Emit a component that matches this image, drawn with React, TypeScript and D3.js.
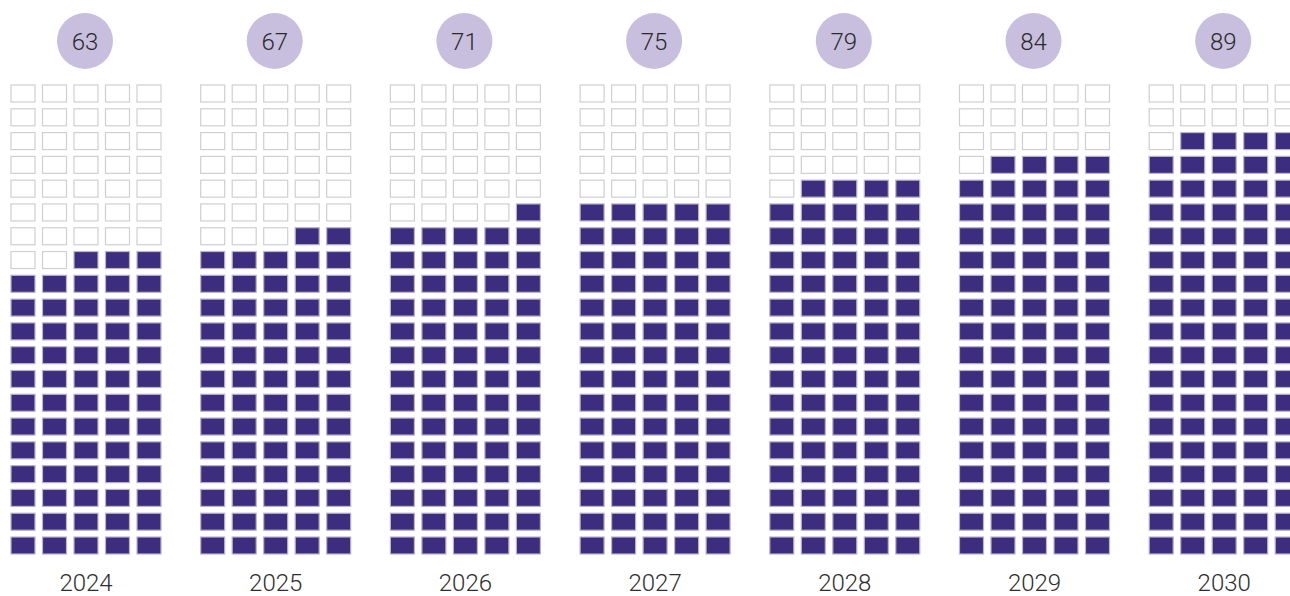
import React from "react";
import * as d3 from "d3";

const years = ["2024", "2025", "2026", "2027", "2028", "2029", "2030"];
const values = [63, 67, 71, 75, 79, 84, 89];
const COLS = 5;
const ROWS = 20;

const W = 1290;
const H = 596;

export default function App() {
  const groupX = d3.scaleLinear().domain([0, 1]).range([11, 200.7]);
  const colX = d3.scaleLinear().domain([0, 1]).range([0, 31.5]);
  const rowY = d3.scaleLinear().domain([0, ROWS - 1]).range([85, 537]);
  const cellW = 24;
  const cellH = 17;
  const groupW = colX(COLS - 1) + cellW;

  return (
    <svg
      width={W}
      height={H}
      style={{ position: "absolute", left: 0, top: 0 }}
      fontFamily="Roboto"
    >
      {years.map((y, gi) => {
        const x0 = groupX(gi);
        const cx = x0 + groupW / 2 - 1;
        const v = values[gi];
        const cells = [];
        for (let r = 0; r < ROWS; r++) {
          for (let c = 0; c < COLS; c++) {
            const rowFromBottom = ROWS - 1 - r;
            const colFromRight = COLS - 1 - c;
            const idx = rowFromBottom * COLS + colFromRight;
            const filled = idx < v;
            cells.push(
              <rect
                key={`${r}-${c}`}
                x={x0 + colX(c)}
                y={rowY(r)}
                width={cellW}
                height={cellH}
                fill={filled ? "#3c2d7e" : "#ffffff"}
                stroke={filled ? "#b9b3cc" : "#cfcfcf"}
                strokeWidth={1.2}
              />
            );
          }
        }
        return (
          <g key={y}>
            <circle cx={cx} cy={41} r={28} fill="#c8bfdf" />
            <text
              x={cx}
              y={41}
              dy="0.36em"
              textAnchor="middle"
              fontSize={24}
              fontWeight={300}
              fill="#2a2a2a"
            >
              {v}
            </text>
            {cells}
            <text
              x={cx + 1}
              y={591}
              textAnchor="middle"
              fontSize={24}
              fontWeight={300}
              fill="#2e2e2e"
            >
              {y}
            </text>
          </g>
        );
      })}
    </svg>
  );
}
